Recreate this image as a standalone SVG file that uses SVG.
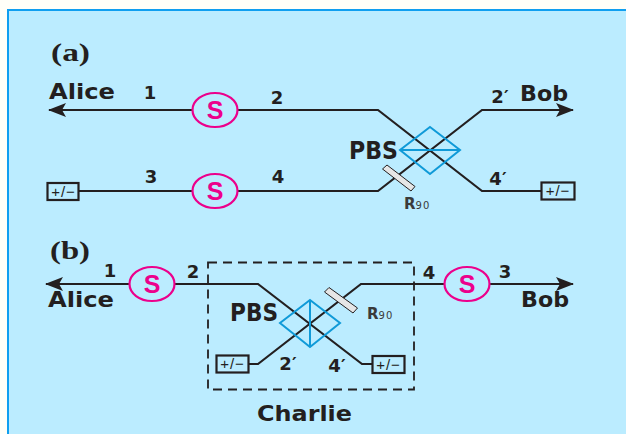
<svg xmlns="http://www.w3.org/2000/svg" width="626" height="434" viewBox="0 0 626 434">
<style>
text{font-family:"DejaVu Sans","Liberation Sans",sans-serif;font-weight:bold;fill:#231f20}
.wire{fill:none;stroke:#231f20;stroke-width:2.2}
.src{fill:none;stroke:#ec008c;stroke-width:2.2}
.srct{fill:#ec008c;font-family:"Liberation Sans",sans-serif;font-size:25px;text-anchor:middle}
.box{fill:none;stroke:#231f20;stroke-width:2.2}
.pm{font-family:"Liberation Sans",sans-serif;font-weight:normal;font-size:15px;text-anchor:middle;letter-spacing:1px}
.pbs{fill:none;stroke:#0f9ad8;stroke-width:2}
.plate{fill:#e6e6e6;stroke:#231f20;stroke-width:1}
.n{font-size:18px;text-anchor:middle}
.name{font-size:21px}
.big{font-size:24px}
.tag{font-family:"Liberation Serif",serif;font-size:25px}
.r{font-size:15px;fill:#3a3a3a}
.r tspan{font-size:10px;font-weight:normal;letter-spacing:1px}
</style>
<defs>
<marker id="arrow" viewBox="0 0 18 14" refX="17" refY="7" markerWidth="18" markerHeight="14" markerUnits="userSpaceOnUse" orient="auto-start-reverse"><path d="M0 0L18 7L0 14L4 7Z" fill="#231f20"/></marker>
</defs>
<rect width="626" height="434" fill="#fffff8"/>
<rect x="8" y="10" width="630" height="436" fill="#bbecff" stroke="#0f9ff0" stroke-width="2"/>

<g id="connectors">
<path class="wire" d="M193 110H49" marker-end="url(#arrow)"/>
<path class="wire" d="M238 110H378L482 191H541"/>
<path class="wire" d="M79 191H192"/>
<path class="wire" d="M238 191H378L482 110H573" marker-end="url(#arrow)"/>
<path class="wire" d="M129 284H46" marker-end="url(#arrow)"/>
<path class="wire" d="M175 284H258L362 364H372"/>
<path class="wire" d="M248 364H258L361 284H445"/>
<path class="wire" d="M490 284H573" marker-end="url(#arrow)"/>
</g>

<g id="label-a"><text class="tag" x="51" y="61" textLength="39" lengthAdjust="spacingAndGlyphs">(a)</text></g>
<g id="alice-a"><text class="name" x="49" y="99" textLength="66" lengthAdjust="spacingAndGlyphs">Alice</text></g>
<g id="bob-a"><text class="name" x="520" y="101" textLength="48" lengthAdjust="spacingAndGlyphs">Bob</text></g>
<g id="labels-a">
<text class="n" x="150" y="99">1</text><text class="n" x="277" y="104">2</text>
<text class="n" x="151" y="183">3</text><text class="n" x="278" y="183">4</text>
<text class="n" x="500" y="103">2′</text><text class="n" x="498" y="185">4′</text>
</g>
<g id="source-a1"><ellipse class="src" cx="215" cy="110" rx="22.5" ry="17"/><text class="srct" x="215" y="119">S</text></g>
<g id="source-a2"><ellipse class="src" cx="215" cy="191" rx="22.5" ry="17"/><text class="srct" x="215" y="200">S</text></g>
<g id="box-a1"><rect class="box" x="47.500" y="183" width="31" height="17"/><text class="pm" x="63.500" y="196.500">+/−</text></g>
<g id="box-a2"><rect class="box" x="541.500" y="182.500" width="33" height="17"/><text class="pm" x="558" y="196">+/−</text></g>
<g id="pbs-a">
<path class="pbs" d="M430 127L460 150L430 174L400 150ZM400 150H460"/>
<text class="big" x="349" y="159" textLength="49" lengthAdjust="spacingAndGlyphs">PBS</text>
</g>
<g id="r90-a">
<path class="plate" d="M387 165L415 186.500L411 191L382.500 169Z"/>
<text class="r" x="404" y="209">R<tspan>90</tspan></text>
</g>

<g id="label-b"><text class="tag" x="50" y="259" textLength="40" lengthAdjust="spacingAndGlyphs">(b)</text></g>
<g id="alice-b"><text class="name" x="48" y="307" textLength="66" lengthAdjust="spacingAndGlyphs">Alice</text></g>
<g id="bob-b"><text class="name" x="521" y="307" textLength="48" lengthAdjust="spacingAndGlyphs">Bob</text></g>
<g id="labels-b">
<text class="n" x="110" y="277">1</text><text class="n" x="193" y="278">2</text>
<text class="n" x="429" y="279">4</text><text class="n" x="505" y="278">3</text>
<text class="n" x="288" y="370">2′</text><text class="n" x="337" y="372">4′</text>
</g>
<g id="source-b1"><ellipse class="src" cx="152" cy="284" rx="22.5" ry="17"/><text class="srct" x="152" y="293">S</text></g>
<g id="source-b2"><ellipse class="src" cx="467" cy="284" rx="22.5" ry="17"/><text class="srct" x="467" y="293">S</text></g>
<g id="box-b1"><rect class="box" x="216.500" y="355.500" width="32" height="17"/><text class="pm" x="232.500" y="369">+/−</text></g>
<g id="box-b2"><rect class="box" x="372.500" y="356" width="32" height="17"/><text class="pm" x="388.500" y="369.500">+/−</text></g>
<g id="pbs-b">
<path class="pbs" d="M310 300L340 323L310 347L280 323ZM310 300V347"/>
<text class="big" x="230" y="321" textLength="48" lengthAdjust="spacingAndGlyphs">PBS</text>
</g>
<g id="r90-b">
<path class="plate" d="M329 287.500L357.500 308L353 313L324.500 292Z"/>
<text class="r" x="367" y="319">R<tspan>90</tspan></text>
</g>
<g id="charlie">
<rect x="208" y="262.500" width="206" height="127" fill="none" stroke="#231f20" stroke-width="1.800" stroke-dasharray="9 6"/>
<text class="name" x="257" y="421" textLength="95" lengthAdjust="spacingAndGlyphs">Charlie</text>
</g>
</svg>
